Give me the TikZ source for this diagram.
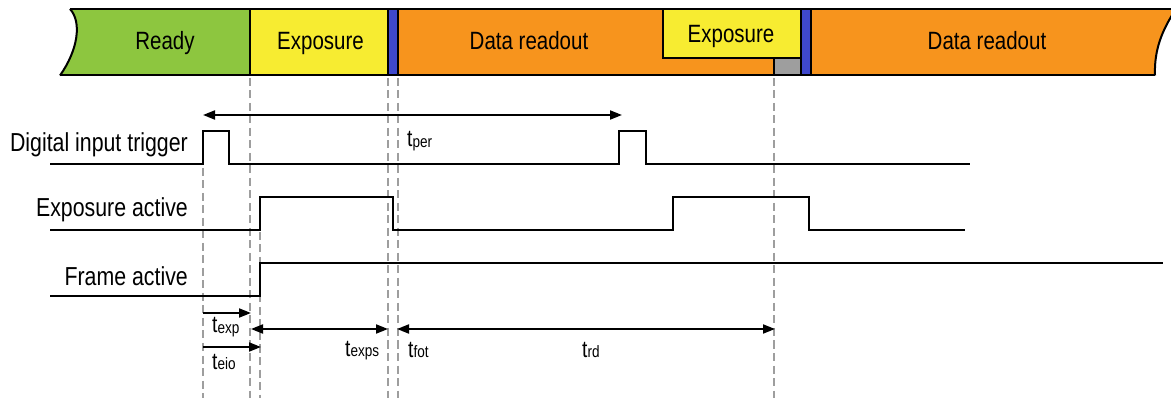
\documentclass[tikz,border=0pt]{standalone}
\usepackage{fontspec}
\setmainfont{Liberation Sans}[FakeStretch=0.82]
\usetikzlibrary{arrows.meta}
\definecolor{rdygreen}{RGB}{141,198,63}
\definecolor{expyellow}{RGB}{247,236,49}
\definecolor{rdorange}{RGB}{247,148,29}
\definecolor{bandblue}{RGB}{63,72,204}
\definecolor{guide}{RGB}{158,158,158}
\newcommand{\tmark}[1]{t{\fontsize{16.5}{18}\selectfont\raisebox{-0.5pt}{#1}}}
\begin{document}
\begin{tikzpicture}[x=1pt,y=-1pt,
  band/.style={draw=black,line width=2pt},
  wave/.style={draw=black,line width=2pt,line join=miter},
  guideline/.style={draw=guide,line width=2pt,dash pattern=on 8pt off 4.5pt},
  dim/.style={line width=2pt,-{Triangle[length=12pt,width=9pt]}},
  ddim/.style={line width=2pt,{Triangle[length=12pt,width=9pt]}-{Triangle[length=12pt,width=9pt]}},
  bandlbl/.style={font=\fontsize{25}{28}\selectfont,anchor=base,inner sep=0pt},
  siglbl/.style={font=\fontsize{26}{28}\selectfont,anchor=base east,inner sep=0pt},
  tlbl/.style={font=\fontsize{23.5}{28}\selectfont,anchor=base west,inner sep=0pt}]
\useasboundingbox (0,0) rectangle (1171,398);
% ---- top state bar
\fill[rdygreen] (70,9) -- (250,9) -- (250,75.5) -- (60,75.5) .. controls (78,50) and (82,22) .. (70,9) -- cycle;
\fill[expyellow] (250,9) rectangle (388,75.5);
\fill[bandblue] (388,9) rectangle (397.5,75.5);
\fill[rdorange] (397.5,9) rectangle (801,75.5);
\fill[bandblue] (801,9) rectangle (811,75.5);
\fill[rdorange] (811,9) -- (1176,9) .. controls (1162,30) and (1154,50) .. (1155,75.5) -- (811,75.5) -- cycle;
\filldraw[fill=expyellow,band] (663,9) rectangle (801,58);
\filldraw[fill=guide,band] (774,58) rectangle (801,75.5);
\draw[band] (70,9) -- (1176,9);
\draw[band] (60,75.5) -- (1155,75.5);
\draw[band] (60,75.5) .. controls (78,50) and (82,22) .. (70,9);
\draw[band] (1155,75.5) .. controls (1154,50) and (1162,30) .. (1176,9);
\foreach \xx in {250,388,397.5,801,811} \draw[band] (\xx,9) -- (\xx,75.5);
\node[bandlbl] (ready) at (165,50) {Ready};
\node[bandlbl] (expA) at (320.5,50) {Exposure};
\node[bandlbl] (readA) at (529,50) {Data readout};
\node[bandlbl] (expB) at (731,42.5) {Exposure};
\node[bandlbl] (readB) at (987,50) {Data readout};
% ---- guide lines
\draw[guideline] (203,168) -- (203,398);
\draw[guideline] (250,78) -- (250,398);
\draw[guideline] (260,232) -- (260,398);
\draw[guideline] (388,78) -- (388,398);
\draw[guideline] (397.5,78) -- (397.5,398);
\draw[guideline] (774,78) -- (774,398);
% ---- signals
\node[siglbl] (sigtrig) at (188,152) {Digital input trigger};
\node[siglbl] (sigexp) at (188,217) {Exposure active};
\node[siglbl] (sigframe) at (188,286) {Frame active};
\draw[wave] (50,164) -- (203,164) -- (203,131) -- (229,131) -- (229,164) -- (619,164) -- (619,131) -- (646,131) -- (646,164) -- (970,164);
\draw[wave] (50,230) -- (260,230) -- (260,197) -- (393,197) -- (393,230) -- (673,230) -- (673,197) -- (809,197) -- (809,230) -- (965,230);
\draw[wave] (50,296) -- (260,296) -- (260,263.5) -- (1163,263.5);
% ---- timing arrows
\coordinate (perL) at (203,115);
\coordinate (perR) at (622,115);
\coordinate (expL) at (203,313);
\coordinate (expR) at (251,313);
\coordinate (expsL) at (251,329);
\coordinate (expsR) at (388,329);
\coordinate (rdL) at (397,329);
\coordinate (rdR) at (775,329);
\coordinate (eioL) at (203,347);
\coordinate (eioR) at (261,347);
\draw[ddim] (perL) -- (perR);
\draw[dim] (expL) -- (expR);
\draw[ddim] (expsL) -- (expsR);
\draw[ddim] (rdL) -- (rdR);
\draw[dim] (eioL) -- (eioR);
\node[tlbl] (tper) at (407,147) {\tmark{per}};
\node[tlbl] (texp) at (212,333) {\tmark{exp}};
\node[tlbl] (teio) at (212,369) {\tmark{eio}};
\node[tlbl] (texps) at (345,356) {\tmark{exps}};
\node[tlbl] (tfot) at (408,357) {\tmark{fot}};
\node[tlbl] (trd) at (582,357) {\tmark{rd}};
\end{tikzpicture}
\end{document}
